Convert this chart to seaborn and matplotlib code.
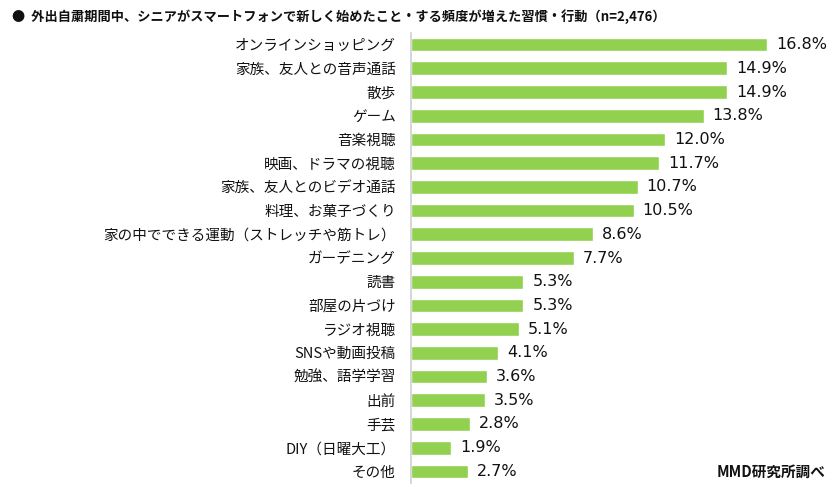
import matplotlib
matplotlib.use("Agg")
import pandas as pd
import matplotlib.pyplot as plt
import seaborn as sns

# Data
categories = [
    "オンラインショッピング", "家族、友人との音声通話", "散歩", "ゲーム", "音楽視聴",
    "映画、ドラマの視聴", "家族、友人とのビデオ通話", "料理、お菓子づくり",
    "家の中でできる運動（ストレッチや筋トレ）", "ガーデニング", "読書", "部屋の片づけ",
    "ラジオ視聴", "SNSや動画投稿", "勉強、語学学習", "出前", "手芸", "DIY（日曜大工）", "その他",
]
values = [16.8, 14.9, 14.9, 13.8, 12.0, 11.7, 10.7, 10.5, 8.6, 7.7,
          5.3, 5.3, 5.1, 4.1, 3.6, 3.5, 2.8, 1.9, 2.7]

title = "●  外出自粛期間中、シニアがスマートフォンで新しく始めたこと・する頻度が増えた習慣・行動（n=2,476）"
source = "MMD研究所調べ"

df = pd.DataFrame({"item": categories, "pct": values})

sns.set_theme(style="white")
plt.rcParams['font.family'] = ['Noto Sans CJK JP', 'DejaVu Sans']

fig = plt.figure(figsize=(8.37, 4.87), dpi=100)
ax = fig.add_axes([411 / 837, 1 - 483.25 / 487, 424 / 837, (483.25 - 32.75) / 487])

sns.barplot(data=df, x="pct", y="item", color="#92D050", width=0.58,
            saturation=1, ax=ax)

ax.set_xlim(0, 20)
ax.set_ylim(len(categories) - 0.5, -0.5)
ax.set_xlabel("")
ax.set_ylabel("")
ax.set_xticks([])
ax.tick_params(axis="y", length=0, pad=11, labelsize=10.5, labelcolor="#111111")
for s in ["top", "right", "bottom"]:
    ax.spines[s].set_visible(False)
ax.spines["left"].set_color("#D0D0D0")
ax.spines["left"].set_linewidth(1.2)

# percentage labels in a Verdana-like face
for i, v in enumerate(values):
    ax.text(v + 0.42, i, f"{v:.1f}%", va="center", ha="left",
            fontsize=11.5, color="#111111", family="DejaVu Sans")

fig.text(12 / 837, 1 - 17 / 487, title, fontsize=9.5, fontweight="bold",
         va="center", ha="left", color="#111111")
fig.text(826 / 837, 1 - 472 / 487, source, fontsize=10.5, fontweight="bold",
         va="center", ha="right", color="#111111")

fig.savefig("out.png", dpi=100)
